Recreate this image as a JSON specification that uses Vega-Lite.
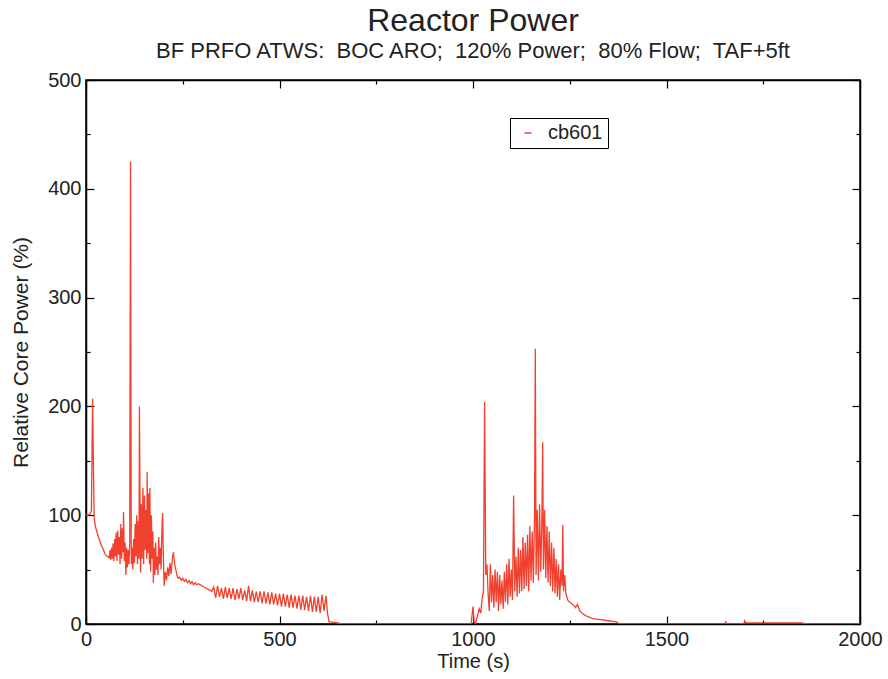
{
  "$schema": "https://vega.github.io/schema/vega-lite/v6.json",
  "width": 774,
  "height": 544,
  "autosize": {"type": "none"},
  "padding": {"left": 86, "top": 80, "right": 28, "bottom": 55},
  "background": "white",
  "config": {
    "font": "Liberation Sans",
    "view": {"stroke": "black", "strokeWidth": 1.5},
    "axis": {"grid": false, "domainColor": "black", "domainWidth": 1.5, "tickColor": "black", "tickWidth": 1.2, "labelColor": "#222", "titleColor": "#222", "labelFont": "Liberation Sans", "titleFont": "Liberation Sans", "labelFontSize": 20, "titleFontSize": 20, "titleFontWeight": "normal"}
  },
  "title": {
    "text": "Reactor Power",
    "subtitle": "BF PRFO ATWS:\u00a0 BOC ARO;\u00a0 120% Power;\u00a0 80% Flow;\u00a0 TAF+5ft",
    "fontSize": 32,
    "fontWeight": "normal",
    "subtitleFontSize": 22,
    "subtitlePadding": 3,
    "offset": 7,
    "anchor": "middle",
    "color": "#222",
    "subtitleColor": "#222",
    "font": "Liberation Sans",
    "subtitleFont": "Liberation Sans"
  },
  "layer": [
    {
      "data": {"values": [
        {"t":0,"p":100},{"t":5,"p":100},{"t":10,"p":101},{"t":14,"p":104},{"t":17,"p":207},{"t":19,"p":150},{"t":21,"p":98},{"t":24,"p":90},{"t":28,"p":85},{"t":32,"p":80},{"t":36,"p":76},{"t":40,"p":72},{"t":45,"p":68},{"t":50,"p":64},{"t":55,"p":62},{"t":60,"p":61},
        {"t":62,"p":68},{"t":64,"p":59},{"t":66,"p":70},{"t":68,"p":60},{"t":70,"p":74},{"t":72,"p":58},{"t":74,"p":78},{"t":76,"p":62},{"t":78,"p":84},{"t":80,"p":58},{"t":82,"p":86},{"t":84,"p":64},{"t":86,"p":80},{"t":88,"p":55},{"t":90,"p":92},{"t":92,"p":60},{"t":94,"p":88},{"t":96,"p":66},{"t":97,"p":103},{"t":99,"p":58},{"t":101,"p":75},{"t":103,"p":45},{"t":105,"p":70},{"t":107,"p":52},{"t":109,"p":68},{"t":111,"p":55},{"t":113,"p":75},{"t":115,"p":425},{"t":117,"p":55},{"t":119,"p":70},{"t":121,"p":50},{"t":123,"p":78},{"t":125,"p":56},{"t":127,"p":92},{"t":129,"p":62},{"t":131,"p":100},{"t":133,"p":55},{"t":135,"p":95},{"t":137,"p":60},{"t":138,"p":200},{"t":140,"p":90},{"t":141,"p":47},{"t":143,"p":110},{"t":145,"p":60},{"t":147,"p":125},{"t":149,"p":55},{"t":151,"p":118},{"t":153,"p":68},{"t":155,"p":105},{"t":157,"p":60},{"t":158,"p":140},{"t":160,"p":65},{"t":162,"p":120},{"t":164,"p":55},{"t":165,"p":125},{"t":167,"p":48},{"t":169,"p":100},{"t":171,"p":60},{"t":173,"p":85},{"t":174,"p":38},{"t":176,"p":70},{"t":178,"p":45},{"t":180,"p":75},{"t":182,"p":50},{"t":184,"p":62},{"t":186,"p":45},{"t":188,"p":80},{"t":190,"p":55},{"t":192,"p":70},{"t":194,"p":50},{"t":196,"p":85},{"t":198,"p":102},{"t":200,"p":60},{"t":202,"p":35},{"t":205,"p":48},{"t":208,"p":40},{"t":211,"p":52},{"t":214,"p":44},{"t":217,"p":56},{"t":220,"p":46},{"t":223,"p":60},{"t":226,"p":66},{"t":229,"p":55},{"t":232,"p":50},{"t":235,"p":45},{"t":238,"p":42},{"t":242,"p":43},{"t":246,"p":40},{"t":250,"p":42},{"t":254,"p":39},{"t":258,"p":41},{"t":262,"p":38},{"t":266,"p":40},{"t":270,"p":37},{"t":274,"p":39},{"t":278,"p":36},{"t":282,"p":38},{"t":286,"p":36},{"t":290,"p":37},{"t":296,"p":36},{"t":305,"p":34},{"t":315,"p":32},{"t":325,"p":30},
        {"t":330,"p":34},{"t":335,"p":24},{"t":340,"p":35},{"t":345,"p":25},{"t":350,"p":33},{"t":355,"p":23},{"t":360,"p":34},{"t":365,"p":24},{"t":370,"p":33},{"t":375,"p":23},{"t":380,"p":33},{"t":385,"p":22},{"t":390,"p":32},{"t":395,"p":23},{"t":400,"p":33},{"t":405,"p":22},{"t":410,"p":31},{"t":415,"p":21},{"t":420,"p":35},{"t":425,"p":21},{"t":430,"p":31},{"t":435,"p":20},{"t":440,"p":30},{"t":445,"p":20},{"t":450,"p":30},{"t":455,"p":19},{"t":460,"p":30},{"t":465,"p":19},{"t":470,"p":29},{"t":475,"p":18},{"t":480,"p":29},{"t":485,"p":18},{"t":490,"p":28},{"t":495,"p":17},{"t":500,"p":28},{"t":505,"p":16},{"t":510,"p":28},{"t":515,"p":16},{"t":520,"p":27},{"t":525,"p":15},{"t":530,"p":27},{"t":535,"p":15},{"t":540,"p":26},{"t":545,"p":14},{"t":550,"p":26},{"t":555,"p":13},{"t":560,"p":26},{"t":565,"p":13},{"t":570,"p":25},{"t":575,"p":12},{"t":580,"p":26},{"t":585,"p":11},{"t":590,"p":25},{"t":595,"p":11},{"t":600,"p":25},{"t":605,"p":10},{"t":610,"p":27},{"t":615,"p":12},{"t":620,"p":26},{"t":624,"p":10},{"t":628,"p":2},{"t":635,"p":2},{"t":650,"p":1},{"t":660,"p":0},
        {"t":995,"p":0},{"t":1000,"p":16},{"t":1003,"p":2},{"t":1006,"p":0},{"t":1012,"p":8},{"t":1016,"p":14},{"t":1020,"p":10},{"t":1024,"p":25},{"t":1027,"p":30},{"t":1030,"p":204},{"t":1033,"p":45},{"t":1036,"p":55},{"t":1039,"p":28},{"t":1042,"p":12},{"t":1045,"p":55},{"t":1048,"p":20},{"t":1051,"p":45},{"t":1054,"p":15},{"t":1057,"p":50},{"t":1060,"p":20},{"t":1063,"p":48},{"t":1066,"p":12},{"t":1069,"p":45},{"t":1072,"p":18},{"t":1075,"p":40},{"t":1078,"p":14},{"t":1081,"p":48},{"t":1084,"p":20},{"t":1087,"p":55},{"t":1090,"p":18},{"t":1093,"p":60},{"t":1096,"p":25},{"t":1099,"p":50},{"t":1102,"p":22},{"t":1105,"p":118},{"t":1108,"p":30},{"t":1111,"p":62},{"t":1114,"p":25},{"t":1117,"p":70},{"t":1120,"p":28},{"t":1123,"p":68},{"t":1126,"p":30},{"t":1129,"p":80},{"t":1132,"p":32},{"t":1135,"p":75},{"t":1138,"p":35},{"t":1141,"p":82},{"t":1144,"p":30},{"t":1147,"p":90},{"t":1150,"p":40},{"t":1153,"p":85},{"t":1156,"p":38},{"t":1159,"p":100},{"t":1161,"p":253},{"t":1163,"p":45},{"t":1166,"p":105},{"t":1169,"p":40},{"t":1172,"p":110},{"t":1175,"p":48},{"t":1178,"p":95},{"t":1180,"p":167},{"t":1182,"p":50},{"t":1185,"p":105},{"t":1188,"p":42},{"t":1191,"p":90},{"t":1194,"p":38},{"t":1197,"p":85},{"t":1200,"p":35},{"t":1203,"p":75},{"t":1206,"p":30},{"t":1209,"p":70},{"t":1212,"p":28},{"t":1215,"p":60},{"t":1218,"p":25},{"t":1221,"p":55},{"t":1224,"p":22},{"t":1227,"p":50},{"t":1230,"p":35},{"t":1232,"p":91},{"t":1234,"p":30},{"t":1237,"p":45},{"t":1240,"p":28},{"t":1245,"p":22},{"t":1250,"p":20},{"t":1258,"p":18},{"t":1265,"p":15},{"t":1270,"p":18},{"t":1276,"p":12},{"t":1285,"p":9},{"t":1295,"p":7},{"t":1310,"p":5},{"t":1330,"p":4},{"t":1350,"p":3},{"t":1370,"p":2},{"t":1380,"p":0},
        {"t":1650,"p":0},{"t":1653,"p":2},{"t":1656,"p":0},{"t":1700,"p":0},{"t":1702,"p":3},{"t":1705,"p":1},{"t":1850,"p":1},{"t":1860,"p":0},{"t":2000,"p":0}
      ]},
      "mark": {"type": "line", "strokeWidth": 1.3, "clip": true},
      "encoding": {
        "x": {"field": "t", "type": "quantitative", "scale": {"domain": [0, 2000], "nice": false, "zero": false},
          "axis": {"orient": "bottom", "title": "Time (s)", "titlePadding": 2, "values": [0,250,500,750,1000,1250,1500,1750,2000], "format": "d", "labelFlush": false, "labelExpr": "datum.value % 500 === 0 ? datum.label : ''", "tickSize": {"condition": {"test": "datum.value % 500 === 0", "value": -8}, "value": -4}, "labelPadding": 13}},
        "y": {"field": "p", "type": "quantitative", "scale": {"domain": [0, 500], "nice": false},
          "axis": {"orient": "left", "title": "Relative Core Power (%)", "titleFontSize": 21, "titlePadding": 16, "values": [0,50,100,150,200,250,300,350,400,450,500], "labelExpr": "datum.value % 100 === 0 ? datum.label : ''", "tickSize": {"condition": {"test": "datum.value % 100 === 0", "value": -8}, "value": -4}, "labelPadding": 13, "labelFlush": false}},
        "color": {"datum": "cb601", "type": "nominal", "scale": {"range": ["#f2402f"]},
          "legend": {"title": null, "orient": "none", "legendX": 424, "legendY": 38, "strokeColor": "black", "padding": 5, "symbolType": "stroke", "symbolSize": 50, "symbolStrokeWidth": 1.5, "labelFontSize": 20, "labelFont": "Liberation Sans", "labelColor": "#222", "symbolOffset": 3, "labelOffset": 10}}
      }
    },
    {
      "data": {"values": [{}]},
      "mark": {"type": "point", "opacity": 0},
      "encoding": {
        "x": {"datum": 0, "type": "quantitative", "axis": {"orient": "top", "title": null, "labels": false, "values": [0,250,500,750,1000,1250,1500,1750,2000], "tickSize": {"condition": {"test": "datum.value % 500 === 0", "value": -8}, "value": -4}}},
        "y": {"datum": 0, "type": "quantitative", "axis": {"orient": "right", "title": null, "labels": false, "values": [0,50,100,150,200,250,300,350,400,450,500], "tickSize": {"condition": {"test": "datum.value % 100 === 0", "value": -8}, "value": -4}}}
      }
    }
  ],
  "resolve": {"axis": {"x": "independent", "y": "independent"}}
}
